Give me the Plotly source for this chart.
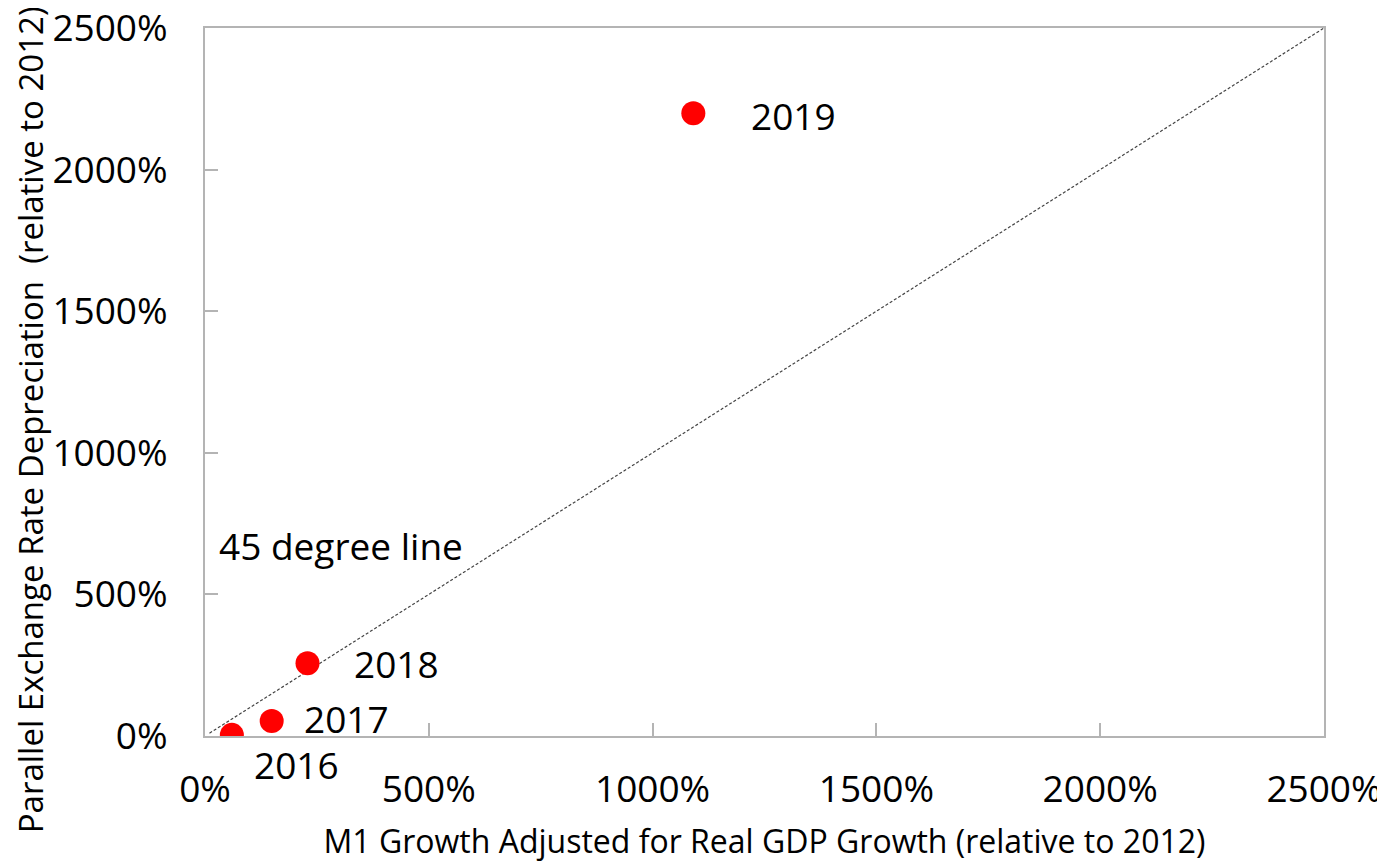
import plotly.graph_objects as go

years = ["2016", "2017", "2018", "2019"]
m1_growth = [60, 149, 229, 1091]
fx_depreciation = [4, 53, 257, 2199]
line_x = [10, 2500]
line_y = [10, 2500]
tick_vals = [0, 500, 1000, 1500, 2000, 2500]
tick_text = ["0%", "500%", "1000%", "1500%", "2000%", "2500%"]

# label pixel offsets (style)
label_xshift = [20, 30, 44, 56]
label_yshift = [-30, 2, 0, -2]

FONT = "Open Sans, Noto Sans, sans-serif"

fig = go.Figure()
fig.add_trace(go.Scatter(
    x=line_x, y=line_y, mode="lines",
    line=dict(color="#444444", width=1.2, dash="3px,2px"),
    hoverinfo="skip", showlegend=False))
fig.add_trace(go.Scatter(
    x=m1_growth, y=fx_depreciation, mode="markers",
    marker=dict(color="#ff0000", size=24, line=dict(width=0)),
    showlegend=False))

for yr, xv, yv, dx, dy in zip(years, m1_growth, fx_depreciation, label_xshift, label_yshift):
    fig.add_annotation(x=xv, y=yv, text=yr, showarrow=False,
                       xanchor="left", yanchor="middle", xshift=dx, yshift=dy,
                       font=dict(family=FONT, size=37, color="#000000"))

fig.add_annotation(x=27, y=674, text="45 degree line", showarrow=False,
                   xanchor="left", yanchor="middle",
                   font=dict(family=FONT, size=37, color="#000000"))

# y-axis title (placed as annotation to match the original's offset)
fig.add_annotation(x=0, y=0.446, xref="paper", yref="paper",
                   text="Parallel Exchange Rate Depreciation  (relative to 2012)",
                   textangle=-90, showarrow=False, xanchor="center", yanchor="middle",
                   xshift=-175,
                   font=dict(family=FONT, size=33, color="#000000"))

axis_common = dict(
    range=[0, 2500], tickvals=tick_vals, ticktext=tick_text,
    showgrid=False, zeroline=False, automargin=False,
    ticklabeloverflow="allow",
    showline=True, linecolor="#b4b4b4", linewidth=2, mirror=True,
    ticks="inside", ticklen=13, tickcolor="#b4b4b4", tickwidth=1.5,
    tickfont=dict(family=FONT, size=37, color="#000000"),
)

fig.update_xaxes(**axis_common, ticklabelstandoff=20,
                 title=dict(text="M1 Growth Adjusted for Real GDP Growth (relative to 2012)",
                            font=dict(family=FONT, size=32, color="#000000"), standoff=18))
fig.update_yaxes(**axis_common, ticklabelstandoff=28)

# page body adds an 8px offset; size the figure so the plot area lands where the original's does
fig.update_layout(
    width=1377, height=855,
    margin=dict(l=197, r=61, t=20, b=127),
    plot_bgcolor="white", paper_bgcolor="white",
    font=dict(family=FONT),
)

fig.write_html("out.html")
